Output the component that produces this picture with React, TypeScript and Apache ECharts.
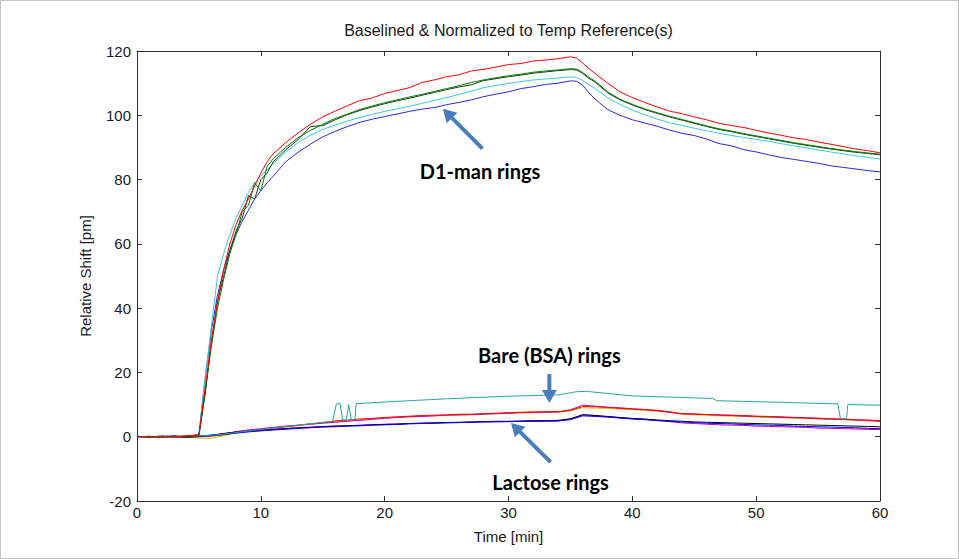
import React, { useEffect, useRef } from "react";
import * as echarts from "echarts";

// ---------- Data ----------
const timeD1 = [0, 1, 2, 3, 4, 5, 5.5, 6, 6.5, 7, 7.5, 8, 8.5, 9, 9.5, 10, 10.5, 11, 12, 13, 14, 15, 16, 17, 18, 19, 20, 21, 22, 23, 24, 25, 26, 27, 28, 29, 30, 31, 32, 33, 34, 35, 35.5, 36, 36.5, 37, 38, 39, 40, 41, 42, 43, 44, 45, 46, 47, 48, 49, 50, 51, 52, 53, 54, 55, 56, 57, 58, 59, 60];

const d1Red = [0.2, -0.3, 0.1, 0, 0.3, 0.5,
  15, 30, 42, 52, 60, 66, 70.5, 74, 78, 82, 85.5, 88,
  91.5, 94.5, 97.2, 99.5, 101.3, 103, 104.6, 105.4, 106.8, 107.7, 108.6, 110.2, 111, 112, 112.6, 113.8, 114.3, 115, 115.8, 116.1, 116.9, 117.2, 117.6, 118.2,
  117.8, 116.2, 114.5, 113,
  110, 107.3, 105.5, 104, 102.6, 101.3, 100.5, 99.5, 98.6, 97.5, 96.8, 96.2, 95.3, 94.5, 93.8, 93, 92.5, 91.7, 91, 90.3, 89.5, 89, 88.3];

const d1Green = [0, 0.1, -0.2, 0, 0.2, 0.3,
  14, 28, 40, 49, 57, 63, 70, 72, 79, 76.5, 84, 86.5,
  90, 93, 95.3, 97.2, 99, 100.4, 101.8, 102.9, 103.9, 104.8, 105.7, 106.5, 107.4, 108.3, 109.2, 110.2, 111, 111.7, 112.3, 112.8, 113.4, 113.8, 114.1, 114.5,
  114.4, 113.3, 111.8, 110.6,
  107.3, 105, 103.4, 102, 100.8, 99.7, 98.7, 97.7, 96.7, 95.8, 95.1, 94.3, 93.6, 92.9, 92.2, 91.5, 90.9, 90.3, 89.7, 89.2, 88.7, 88.3, 87.9];

const d1Black = [0.1, 0, 0.2, -0.1, 0, 0.4,
  13, 29, 42, 50, 58, 64, 68, 75, 74, 80, 82, 85.5,
  89.2, 92.4, 96.5, 96.8, 98.6, 100.2, 101.5, 102.6, 103.6, 104.5, 105.3, 106.2, 107.1, 108, 108.8, 109.5, 110.8, 111.4, 112, 112.5, 113.1, 113.5, 113.9, 114.2,
  114.1, 113, 111.5, 110.3,
  107, 104.8, 103.2, 101.8, 100.6, 99.5, 98.5, 97.5, 96.5, 95.6, 94.9, 94.1, 93.4, 92.7, 92, 91.3, 90.7, 90.1, 89.5, 89, 88.5, 88.1, 87.7];

const d1Cyan = [0, -0.2, 0.1, 0, 0.1, 0.6,
  18, 34, 50, 57, 63, 68, 72, 76, 79, 81, 83, 85,
  88.5, 91.5, 93.8, 95.6, 97, 98.2, 99.3, 100.3, 101.2, 102, 102.8, 103.7, 104.6, 105.5, 106.5, 107.5, 108.6, 109.3, 109.9, 110.5, 111, 111.3, 111.6, 111.9,
  111.8, 110.8, 109.5, 108.3,
  105.5, 103.4, 101.6, 100.2, 98.8, 97.7, 96.8, 96, 95.2, 94.4, 93.7, 93.1, 92.5, 91.9, 91.2, 90.5, 89.9, 89.2, 88.6, 88, 87.4, 86.9, 86.4];

const d1Blue = [-0.1, 0.1, 0, 0.2, -0.1, 0.8,
  18, 33, 44, 52, 58, 63, 67, 70.5, 74, 76.5, 79, 81,
  85.5, 88.5, 91, 93.3, 95, 96.5, 97.8, 98.8, 99.6, 100.4, 101.2, 101.9, 102.4, 103.3, 104, 104.8, 105.8, 106.6, 107.3, 108.3, 108.9, 109.6, 110, 110.7,
  110.6, 109.3, 107, 105,
  101.8, 100, 98.6, 97.6, 96.6, 95.4, 94.4, 93.7, 92.6, 91.2, 90.5, 89.3, 88.6, 87.7, 86.9, 86.3, 85.7, 85.1, 84.3, 83.8, 83.3, 82.8, 82.4];

const timeLow = [0, 1, 2, 3, 4, 5, 6, 7, 8, 9, 10, 11, 12, 13, 14, 15, 16, 17, 18, 19, 20, 21, 22, 23, 24, 25, 26, 27, 28, 29, 30, 31, 32, 33, 34, 35, 36, 37, 38, 39, 40, 41, 42, 43, 44, 45, 46, 47, 48, 49, 50, 51, 52, 53, 54, 55, 56, 57, 58, 59, 60];

const bsaRed = [0.1, -0.2, 0.1, 0, -0.3, 0, 0.2, 0.6, 1.2, 1.8, 2.3, 2.7, 3.1, 3.5, 4, 4.4, 4.9, 5.2, 5.5, 5.7, 6, 6.2, 6.4, 6.6, 6.7, 6.8, 7, 7, 7.2, 7.3, 7.5, 7.6, 7.7, 7.8, 7.8, 8.2, 9.4, 9.3, 9.1, 8.8, 8.6, 8.4, 8.2, 7.8, 7.1, 7, 6.9, 6.8, 6.7, 6.6, 6.4, 6.3, 6.2, 6, 5.9, 5.8, 5.6, 5.5, 5.3, 5.2, 5];
const bsaMagenta = [0, 0.1, -0.1, 0.2, 0, 0.1, 0.4, 0.9, 1.6, 2.1, 2.5, 2.9, 3.3, 3.6, 3.9, 4.2, 4.5, 4.8, 5.1, 5.4, 5.7, 6, 6.2, 6.3, 6.5, 6.7, 6.8, 6.9, 7, 7.2, 7.3, 7.5, 7.6, 7.6, 7.7, 8.4, 9.8, 9.5, 9.2, 9, 8.7, 8.5, 8.1, 7.6, 7.2, 7.1, 6.9, 6.7, 6.6, 6.4, 6.3, 6.2, 6, 5.9, 5.8, 5.6, 5.5, 5.4, 5.2, 5, 4.8];
const bsaYellow = [-0.1, 0, 0.1, -0.1, 0, -0.4, -0.5, 0.3, 1.3, 1.9, 2.3, 2.8, 3.2, 3.5, 3.9, 4.3, 4.7, 5, 5.3, 5.6, 5.8, 6, 6.2, 6.3, 6.5, 6.6, 6.7, 6.8, 7, 7.1, 7.3, 7.4, 7.4, 7.5, 7.6, 8, 9, 8.9, 8.8, 8.6, 8.4, 8.2, 7.9, 7.5, 7, 6.8, 6.7, 6.5, 6.4, 6.3, 6.1, 6, 5.9, 5.8, 5.7, 5.5, 5.4, 5.3, 5.1, 5, 4.9];
const lacBlue = [0, 0.1, -0.1, 0, 0.1, 0.2, 0.3, 0.7, 1.1, 1.5, 1.8, 2.1, 2.3, 2.6, 2.8, 3, 3.1, 3.3, 3.4, 3.6, 3.7, 3.8, 4, 4.1, 4.2, 4.3, 4.4, 4.5, 4.6, 4.7, 4.7, 4.8, 4.8, 4.9, 4.9, 5.3, 6.5, 6.3, 6.1, 5.8, 5.5, 5.3, 5, 4.8, 4.6, 4.4, 4.2, 4.1, 4, 3.8, 3.7, 3.6, 3.5, 3.3, 3.2, 3.1, 3, 2.9, 2.8, 2.6, 2.5];
const lacBlack = [0.1, 0, 0.1, 0.2, -0.1, 0.1, 0.5, 1, 1.4, 1.7, 2, 2.2, 2.5, 2.7, 2.9, 3.1, 3.3, 3.4, 3.5, 3.7, 3.8, 3.9, 4.1, 4.2, 4.3, 4.4, 4.5, 4.6, 4.7, 4.8, 4.8, 4.9, 5, 5, 5.1, 5.6, 6.8, 6.6, 6.3, 6, 5.7, 5.5, 5.2, 5, 4.8, 4.6, 4.5, 4.4, 4.3, 4.2, 4.1, 4, 3.9, 3.8, 3.7, 3.6, 3.5, 3.4, 3.3, 3.2, 3.1];
const lacMagenta = [-0.2, 0, 0.1, -0.1, 0.1, 0, 0.4, 0.9, 1.5, 2, 2.2, 2.4, 2.6, 2.8, 3, 3.2, 3.3, 3.4, 3.6, 3.7, 3.9, 4, 4.1, 4.2, 4.3, 4.4, 4.4, 4.5, 4.6, 4.6, 4.7, 4.7, 4.8, 4.8, 4.9, 5.5, 6.9, 6.6, 6.2, 5.9, 5.6, 5.4, 5.1, 4.7, 4.3, 4.1, 3.9, 3.7, 3.6, 3.5, 3.3, 3.2, 3.1, 3, 2.9, 2.7, 2.6, 2.5, 2.4, 2.3, 2.2];

const timeBsaCyan = [0, 3, 5, 7, 10, 13, 15.8, 16.1, 16.4, 16.6, 16.9, 17.1, 17.3, 17.6, 17.7, 20, 25, 30, 34, 35.5, 36.3, 40, 46.5, 46.8, 52, 56.6, 56.8, 57.3, 57.4, 60];
const bsaCyan = [0, 0.1, 0.2, 0.8, 2.3, 3.6, 4.8, 10.2, 10.3, 5.2, 5.2, 10, 5.3, 5.5, 10.3, 10.8, 11.8, 12.6, 13, 14, 14.1, 12.7, 11.9, 11.2, 10.7, 10.2, 5.7, 5.7, 10, 9.8];

const xTicks = { min: 0, max: 60, interval: 10 };
const yTicks = { min: -20, max: 120, interval: 20 };

const titleText = "Baselined & Normalized to Temp Reference(s)";
const xName = "Time [min]";
const yName = "Relative Shift [pm]";

const FONT = "'Liberation Sans', Arial, Helvetica, sans-serif";
const LABEL_FONT = "Lato, 'Open Sans', sans-serif";
const ARROW = "#4a7ebb";

export default function App() {
  const ref = useRef<HTMLDivElement>(null);

  useEffect(() => {
    document.body.style.margin = "0";
    const chart = echarts.init(ref.current!, null, { renderer: "svg" });

    const line = (name: string, xs: number[], ys: number[], color: string) => ({
      type: "line",
      name,
      data: xs.map((x, i) => [x, ys[i]]),
      symbol: "none",
      showSymbol: false,
      silent: true,
      xAxisIndex: 0,
      yAxisIndex: 0,
      lineStyle: { color, width: 1 },
      itemStyle: { color },
    });

    const axisBase = {
      type: "value",
      splitLine: { show: false },
      axisLine: { show: true, onZero: false, lineStyle: { color: "#303030", width: 1 } },
      axisTick: { show: true, inside: true, length: 5, lineStyle: { color: "#303030" } },
    };

    chart.setOption({
      animation: false,
      backgroundColor: "#ffffff",
      grid: { left: 137, right: 79, top: 51, bottom: 58 },
      xAxis: [
        {
          ...axisBase,
          ...xTicks,
          position: "bottom",
          axisLabel: { color: "#1a1a1a", fontSize: 15, fontFamily: FONT, margin: 4 },
          name: xName,
          nameLocation: "middle",
          nameGap: 28,
          nameTextStyle: { color: "#1a1a1a", fontSize: 15, fontFamily: FONT },
        },
        { ...axisBase, ...xTicks, position: "top", axisLabel: { show: false } },
      ],
      yAxis: [
        {
          ...axisBase,
          ...yTicks,
          position: "left",
          axisLabel: { color: "#1a1a1a", fontSize: 15, fontFamily: FONT, margin: 6 },
          name: yName,
          nameLocation: "middle",
          nameGap: 44,
          nameTextStyle: { color: "#1a1a1a", fontSize: 15, fontFamily: FONT },
        },
        { ...axisBase, ...yTicks, position: "right", axisLabel: { show: false } },
      ],
      series: [
        line("BSA yellow", timeLow, bsaYellow, "#bfbf00"),
        line("BSA magenta", timeLow, bsaMagenta, "#bf00bf"),
        line("BSA red", timeLow, bsaRed, "#ff0000"),
        line("Lactose magenta", timeLow, lacMagenta, "#bf00bf"),
        line("Lactose black", timeLow, lacBlack, "#000000"),
        line("Lactose blue", timeLow, lacBlue, "#0000ff"),
        line("BSA cyan", timeBsaCyan, bsaCyan, "#2aa89a"),
        line("D1 blue", timeD1, d1Blue, "#2a2ad0"),
        line("D1 cyan", timeD1, d1Cyan, "#3cc8dc"),
        line("D1 black", timeD1, d1Black, "#1a3a1a"),
        line("D1 green", timeD1, d1Green, "#008000"),
        line("D1 red", timeD1, d1Red, "#ff0000"),
      ],
    });

    const px = (p: number[]) => chart.convertToPixel({ xAxisIndex: 0, yAxisIndex: 0 }, p) as number[];

    const arrow = (tailD: number[], tipD: number[]) => {
      const tail = px(tailD);
      const tip = px(tipD);
      const dx = tip[0] - tail[0];
      const dy = tip[1] - tail[1];
      const L = Math.hypot(dx, dy);
      const ux = dx / L, uy = dy / L;
      const hl = 13, hw = 7.5;
      const bx = tip[0] - ux * hl, by = tip[1] - uy * hl;
      return [
        { type: "line", silent: true, z: 50, shape: { x1: tail[0], y1: tail[1], x2: bx + ux * 2, y2: by + uy * 2 }, style: { stroke: ARROW, lineWidth: 4 } },
        { type: "polygon", silent: true, z: 50, shape: { points: [[tip[0], tip[1]], [bx - uy * hw, by + ux * hw], [bx + uy * hw, by - ux * hw]] }, style: { fill: ARROW } },
      ];
    };

    const label = (text: string, at: number[]) => {
      const p = px(at);
      return {
        type: "text", silent: true, z: 50, x: p[0], y: p[1],
        style: { text, fill: "#000000", font: `bold 20px ${LABEL_FONT}`, textAlign: "center", textVerticalAlign: "middle" },
      };
    };

    const topMid = px([30, 120]);

    chart.setOption({
      graphic: [
        { type: "rect", silent: true, shape: { x: 0.5, y: 0.5, width: 958, height: 558 }, style: { fill: "none", stroke: "#c4c4c4", lineWidth: 1 } },
        {
          type: "text", silent: true, x: topMid[0], y: topMid[1] - 21,
          style: { text: titleText, fill: "#1a1a1a", font: `16px ${FONT}`, textAlign: "center", textVerticalAlign: "middle" },
        },
        ...arrow([27.9, 89.6], [24.7, 102]),
        ...arrow([33.3, 19.5], [33.3, 10.5]),
        ...arrow([33.4, -7.9], [30.2, 4.3]),
        label("D1-man rings", [27.7, 82.6]),
        label("Bare (BSA) rings", [33.3, 25.4]),
        label("Lactose rings", [33.4, -14.1]),
      ],
    });

    return () => chart.dispose();
  }, []);

  return (
    <div
      ref={ref}
      style={{ position: "absolute", left: 0, top: 0, width: 959, height: 559, background: "#fff" }}
    />
  );
}
